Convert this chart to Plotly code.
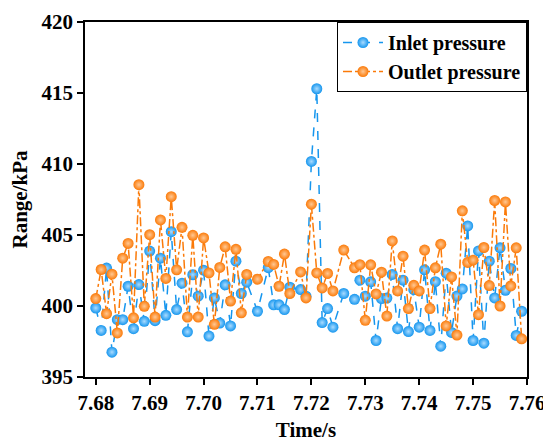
import plotly.graph_objects as go

# time offsets in ms from 7.680 s
t_ms = [0, 1, 2, 3, 4, 5, 6, 7, 8, 9, 10, 11, 12, 13, 14, 15, 16, 17, 18, 19,
        20, 21, 22, 23, 24, 25, 26, 27, 28, 30, 32, 33, 34, 35, 36, 38, 39, 40,
        41, 42, 43, 44, 46, 48, 49, 50, 51, 52, 53, 54, 55, 56, 57, 58, 59, 60,
        61, 62, 63, 64, 65, 66, 67, 68, 69, 70, 71, 72, 73, 74, 75, 76, 77, 78, 79]
time_s = [round(7.680 + 0.001 * m, 4) for m in t_ms]

inlet = [399.86, 398.28, 402.67, 396.75, 399.04, 399.04, 401.39, 398.40, 401.51, 398.92,
         403.87, 398.97, 403.37, 399.34, 405.23, 399.75, 401.61, 398.18, 402.20, 400.69,
         402.52, 397.88, 400.57, 398.80, 401.49, 398.60, 403.16, 400.88, 401.68, 399.63,
         402.70, 400.08, 400.08, 399.75, 401.32, 401.16, 400.69, 410.18, 415.30, 398.83,
         399.82, 398.51, 400.88, 400.47, 401.82, 400.69, 401.70, 397.57, 400.52, 400.56,
         402.22, 398.40, 401.82, 398.20, 401.15, 398.51, 402.55, 398.28, 401.71, 397.17,
         402.31, 398.14, 400.70, 401.20, 405.64, 397.57, 403.88, 397.38, 403.16, 400.57,
         404.10, 401.11, 402.64, 397.93, 399.63]

outlet = [400.52, 402.57, 399.46, 402.24, 398.10, 403.37, 404.41, 399.17, 408.54, 399.98,
          405.02, 399.22, 406.06, 401.94, 407.70, 402.55, 405.54, 399.22, 404.98, 399.22,
          404.79, 402.33, 398.71, 402.72, 404.17, 400.35, 403.99, 399.52, 402.22, 401.89,
          403.14, 402.93, 401.39, 403.66, 400.88, 402.40, 400.57, 407.17, 402.33, 401.27,
          402.29, 401.06, 403.94, 402.69, 402.91, 398.99, 402.90, 400.85, 402.38, 399.29,
          404.58, 401.06, 403.51, 399.82, 401.46, 401.06, 403.94, 399.82, 402.69, 404.35,
          398.60, 402.05, 397.95, 406.70, 403.07, 403.23, 399.39, 404.12, 401.44, 407.43,
          400.00, 407.33, 401.41, 404.10, 397.69]

x_ticks = [7.68, 7.69, 7.70, 7.71, 7.72, 7.73, 7.74, 7.75, 7.76]
y_ticks = [395, 400, 405, 410, 415, 420]

BLUE = "#1696ee"
ORANGE = "#fb7a08"
FONT = dict(family="Liberation Serif", size=21, color="black", weight="bold")
LEG_FONT = dict(family="Liberation Serif", size=20, color="black", weight="bold")

fig = go.Figure()
fig.add_trace(go.Scatter(
    x=time_s, y=inlet, mode="lines+markers", name="Inlet pressure",
    line=dict(color=BLUE, width=1.5, dash="dash"),
    marker=dict(size=11, color=BLUE, gradient=dict(type="radial", color="#a9dbff"),
                line=dict(width=0))))
fig.add_trace(go.Scatter(
    x=time_s, y=outlet, mode="lines+markers", name="Outlet pressure",
    line=dict(color=ORANGE, width=1.5, dash="dashdot"),
    marker=dict(size=11, color=ORANGE, gradient=dict(type="radial", color="#ffc894"),
                line=dict(width=0))))

axis_common = dict(showline=True, linecolor="black", linewidth=1.5, mirror=True,
                   ticks="outside", ticklen=6, tickwidth=1.5, tickcolor="black",
                   showgrid=False, zeroline=False, tickfont=FONT,
                   title_font=FONT, automargin=False)

fig.update_xaxes(range=[7.678, 7.760], tickvals=x_ticks,
                 ticktext=[f"{v:.2f}" for v in x_ticks],
                 title_text="Time/s", title_standoff=8, **axis_common)
fig.update_yaxes(range=[395, 420], tickvals=y_ticks,
                 title_text="Range/kPa", title_standoff=10, **axis_common)

# the page body adds an 8 px offset, so the figure is sized to fit the window
fig.update_layout(
    width=543, height=435,
    margin=dict(l=77, r=24, t=14, b=66),
    paper_bgcolor="white", plot_bgcolor="white",
    showlegend=True,
    legend=dict(x=1, y=1, xanchor="right", yanchor="top",
                bgcolor="white", bordercolor="black", borderwidth=1,
                font=LEG_FONT, itemwidth=40, tracegroupgap=0),
)

fig.write_html("out.html")
